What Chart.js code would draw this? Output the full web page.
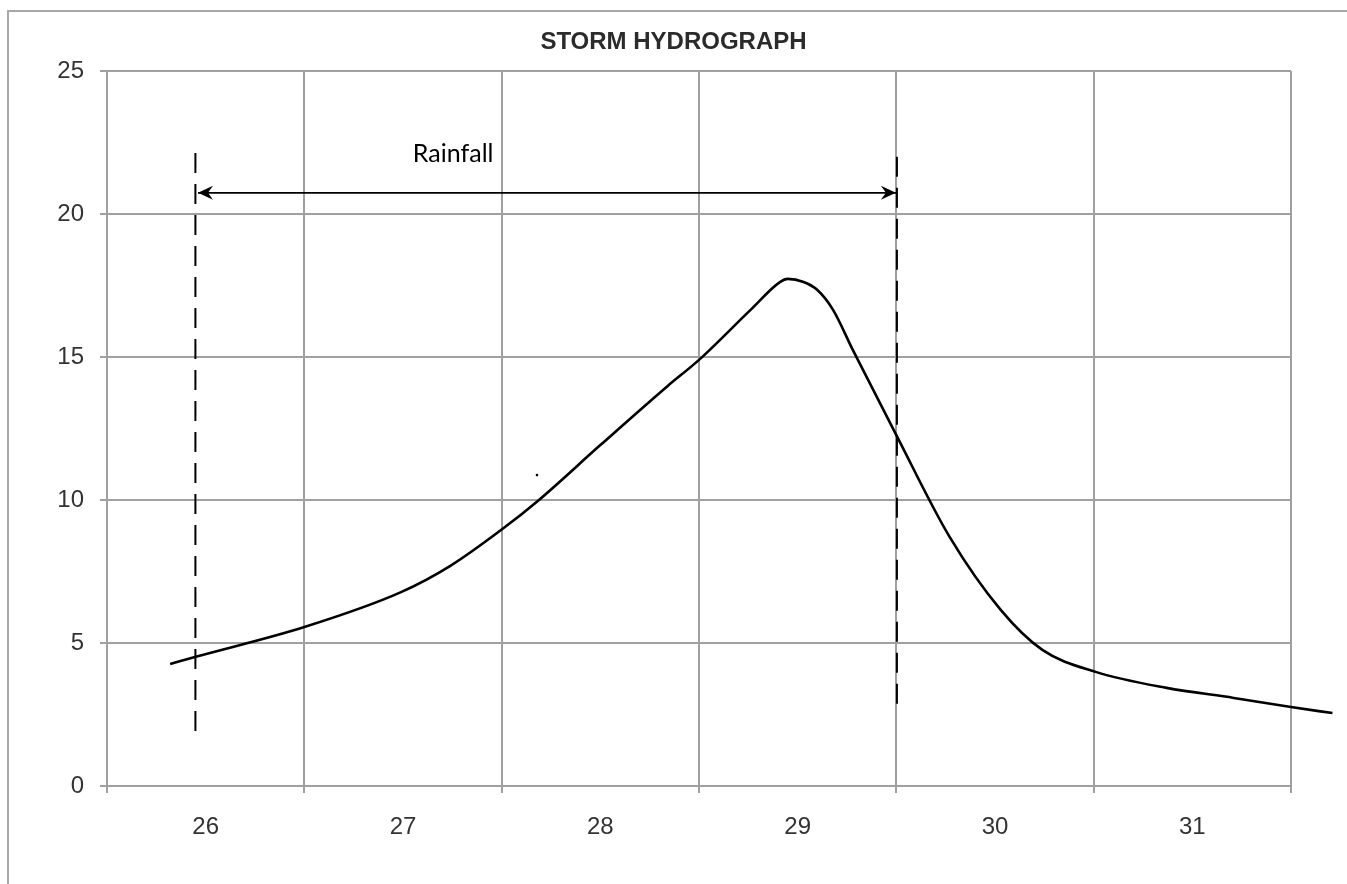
<!DOCTYPE html>
<html>
<head>
<meta charset="utf-8">
<script src="https://cdn.jsdelivr.net/npm/chart.js@4.4.1/dist/chart.umd.min.js"></script>
<style>
  html, body { margin: 0; padding: 0; background: #ffffff; }
  #wrap { position: relative; width: 1347px; height: 884px; }
</style>
</head>
<body>
<div id="wrap"><canvas id="c" width="1347" height="884"></canvas></div>
<script>
// ---- data ----
const categories = ['26', '27', '28', '29', '30', '31'];
const titleText = 'STORM HYDROGRAPH';
const rainLabel = 'Rainfall';

// hydrograph curve (day position, discharge)
const flowDays   = [25.82, 25.95, 26.50, 26.99, 27.24, 27.51, 27.68, 28.00, 28.34, 28.50, 28.76, 28.91, 28.95, 29.03, 29.10, 29.18, 29.28, 29.50, 29.77, 30.03, 30.24, 30.51, 30.87, 31.21, 31.50, 31.71];
const flowValues = [4.27, 4.52, 5.56, 6.78, 7.70, 9.02, 9.95, 11.92, 13.98, 14.90, 16.64, 17.62, 17.73, 17.62, 17.34, 16.64, 15.24, 12.27, 8.71, 6.15, 4.76, 3.99, 3.43, 3.08, 2.76, 2.55];

// rainfall start / end markers
const rainStartDay = 25.948;
const rainStartSpan = [22.13, 1.68];
const rainEndDay = 29.503;
const rainEndSpan = [22.0, 2.55];
const arrowLevel = 20.74;
const arrowStartDay = 25.961;
const rainLabelAt = [27.05, 21.82];
const strayDot = [27.679, 10.87];

const dayMin = 25.5, dayMax = 31.5;
const yMin = 0, yMax = 25, yStep = 5;

const GRID = '#a0a0a0';
const TICK_FONT = { family: '"Liberation Sans", Arial, sans-serif', size: 24 };

const decorPlugin = {
  id: 'decor',
  beforeDraw(chart) {
    const ctx = chart.ctx;
    ctx.save();
    ctx.fillStyle = '#ffffff';
    ctx.fillRect(0, 0, chart.width, chart.height);
    ctx.strokeStyle = '#a8a8a8';
    ctx.lineWidth = 2;
    ctx.strokeRect(8, 11, chart.width + 20, chart.height + 20);
    ctx.restore();
  },
  afterDraw(chart) {
    const ctx = chart.ctx;
    const xs = chart.scales.xv, ys = chart.scales.y;
    ctx.save();
    // title
    ctx.fillStyle = '#2b2b2b';
    ctx.font = 'bold 24px "Liberation Sans", Arial, sans-serif';
    ctx.textAlign = 'center';
    ctx.textBaseline = 'middle';
    ctx.fillText(titleText, chart.width / 2, 42);
    // rainfall label
    ctx.fillStyle = '#000000';
    ctx.font = '25px Lato, "Open Sans", sans-serif';
    ctx.textAlign = 'left';
    ctx.textBaseline = 'alphabetic';
    ctx.fillText(rainLabel, xs.getPixelForValue(rainLabelAt[0]), ys.getPixelForValue(rainLabelAt[1]));
    // arrowheads
    const ay = ys.getPixelForValue(arrowLevel);
    const head = (tipX, dir) => {
      ctx.beginPath();
      ctx.moveTo(tipX, ay);
      ctx.lineTo(tipX + dir * 15, ay - 7);
      ctx.lineTo(tipX + dir * 10, ay);
      ctx.lineTo(tipX + dir * 15, ay + 7);
      ctx.closePath();
      ctx.fill();
    };
    ctx.fillStyle = '#000000';
    head(xs.getPixelForValue(arrowStartDay), 1);
    head(xs.getPixelForValue(rainEndDay) - 1, -1);
    ctx.restore();
  }
};

new Chart(document.getElementById('c'), {
  type: 'line',
  data: {
    labels: categories,
    datasets: [
      {
        label: 'flow',
        xAxisID: 'xv',
        data: flowDays.map((d, i) => ({ x: d, y: flowValues[i] })),
        borderColor: '#000000',
        borderWidth: 2.6,
        pointRadius: 0,
        cubicInterpolationMode: 'monotone',
        fill: false,
        clip: false
      },
      {
        label: 'start',
        xAxisID: 'xv',
        data: rainStartSpan.map(v => ({ x: rainStartDay, y: v })),
        borderColor: '#000000',
        borderWidth: 2,
        borderDash: [20, 11],
        pointRadius: 0,
        clip: false
      },
      {
        label: 'end',
        xAxisID: 'xv',
        data: rainEndSpan.map(v => ({ x: rainEndDay, y: v })),
        borderColor: '#000000',
        borderWidth: 2,
        borderDash: [20, 11],
        pointRadius: 0,
        clip: false
      },
      {
        label: 'arrow',
        xAxisID: 'xv',
        data: [{ x: arrowStartDay, y: arrowLevel }, { x: rainEndDay, y: arrowLevel }],
        borderColor: '#000000',
        borderWidth: 1.6,
        pointRadius: 0,
        clip: false
      },
      {
        label: 'dot',
        xAxisID: 'xv',
        data: [{ x: strayDot[0], y: strayDot[1] }],
        showLine: false,
        pointRadius: 1.3,
        pointBackgroundColor: '#000000',
        pointBorderWidth: 0
      }
    ]
  },
  options: {
    responsive: false,
    animation: false,
    events: [],
    layout: { padding: { left: 0, right: 56, top: 71, bottom: 0 } },
    plugins: {
      legend: { display: false },
      tooltip: { enabled: false },
      title: { display: false }
    },
    scales: {
      x: {
        type: 'category',
        offset: true,
        grid: { offset: true, color: GRID, lineWidth: 2, tickLength: 7, drawTicks: true, tickColor: GRID },
        border: { color: GRID, width: 2 },
        ticks: { color: '#333333', font: TICK_FONT, padding: 20, maxRotation: 0 },
        afterFit(s) { s.height = 98; }
      },
      xv: {
        type: 'linear',
        display: false,
        bounds: 'data',
        afterDataLimits(s) { s.min = dayMin; s.max = dayMax; }
      },
      y: {
        type: 'linear',
        min: yMin,
        max: yMax,
        ticks: { stepSize: yStep, color: '#333333', font: TICK_FONT, padding: 16 },
        grid: { color: GRID, lineWidth: 2, tickLength: 7, tickColor: GRID },
        border: { color: GRID, width: 2 },
        afterFit(s) { s.width = 107; }
      }
    }
  },
  plugins: [decorPlugin]
});
</script>
</body>
</html>
